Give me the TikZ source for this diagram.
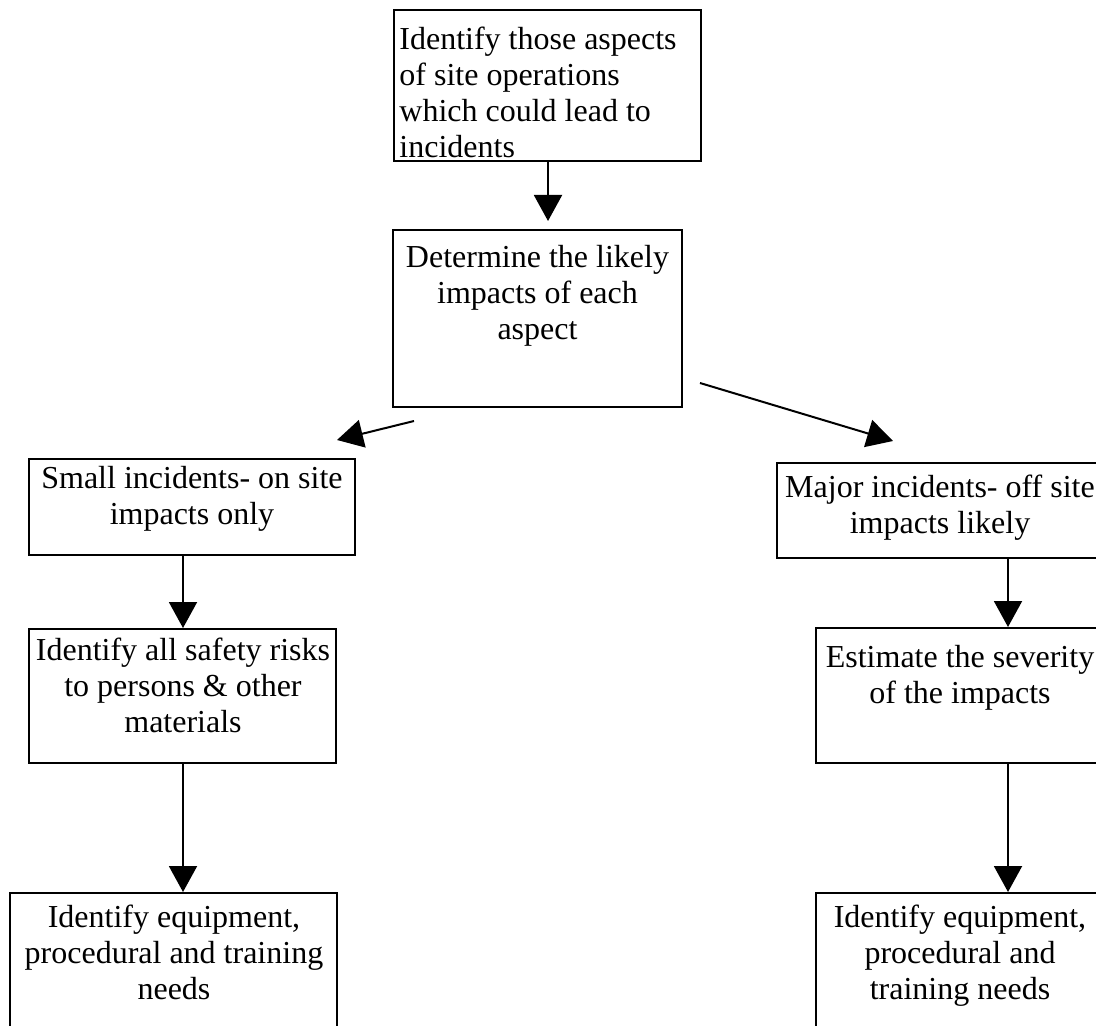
\documentclass[tikz,border=0pt]{standalone}
\usepackage{fontspec}
\setmainfont{Liberation Serif}
\usetikzlibrary{arrows.meta}
\begin{document}
\begin{tikzpicture}[x=.5pt,y=-.5pt,
	box/.style={draw,line width=1pt,inner sep=0pt},
	txt/.style={anchor=north,inner sep=0pt,align=center,font=\fontsize{16}{18}\selectfont},
	arr/.style={line width=1pt,-{Triangle[length=13pt,width=14pt]}}]

	\useasboundingbox (0,0) rectangle (1096,1026);
	\clip (0,0) rectangle (1096,1026);
	\fill[white] (0,0) rectangle (1096,1026);

	\node[box,minimum width=153.5pt,minimum height=75.5pt] (aspects) at (547.5,85.5) {};
	\node[txt,anchor=north west,align=left] (aspects-t) at (399,27) {Identify those aspects\\of site operations\\which could lead to\\incidents};

	\node[box,minimum width=144.5pt,minimum height=88.5pt] (impacts) at (537.5,318.5) {};
	\node[txt] (impacts-t) at (537.5,245) {Determine the likely\\impacts of each\\aspect};

	\node[box,minimum width=163pt,minimum height=48pt] (small) at (192,507) {};
	\node[txt] (small-t) at (192,466) {Small incidents- on site\\impacts only};

	\node[box,minimum width=163pt,minimum height=47.5pt] (major) at (940,510.5) {};
	\node[txt] (major-t) at (940,475) {Major incidents- off site\\impacts likely};

	\node[box,minimum width=153.5pt,minimum height=67pt] (risks) at (182.5,696) {};
	\node[txt] (risks-t) at (183,638) {Identify all safety risks\\to persons \& other\\materials};

	\node[box,minimum width=144pt,minimum height=67.5pt] (severity) at (960,695.5) {};
	\node[txt] (severity-t) at (960,645) {Estimate the severity\\of the impacts};

	\node[box,minimum width=163.5pt,minimum height=73.5pt] (needsL) at (173.5,966.5) {};
	\node[txt] (needsL-t) at (174,905) {Identify equipment,\\procedural and training\\needs};

	\node[box,minimum width=144pt,minimum height=73.5pt] (needsR) at (960,966.5) {};
	\node[txt] (needsR-t) at (960,905) {Identify equipment,\\procedural and\\training needs};

	\coordinate (mcol) at (548,0);
	\coordinate (lcol) at (183,0);
	\coordinate (rcol) at (1008,0);
	\coordinate (impL) at (414,421);
	\coordinate (smallR) at (337,440);
	\coordinate (impR) at (700,383);
	\coordinate (majorL) at (893,441);

	\draw[arr,shorten >=4pt] (aspects.south -| mcol) -- (impacts.north -| mcol);
	\draw[arr] (impL) -- (smallR);
	\draw[arr] (impR) -- (majorL);
	\draw[arr] (small.south -| lcol) -- (risks.north -| lcol);
	\draw[arr] (risks.south -| lcol) -- (needsL.north -| lcol);
	\draw[arr] (major.south -| rcol) -- (severity.north -| rcol);
	\draw[arr] (severity.south -| rcol) -- (needsR.north -| rcol);
\end{tikzpicture}
\end{document}
